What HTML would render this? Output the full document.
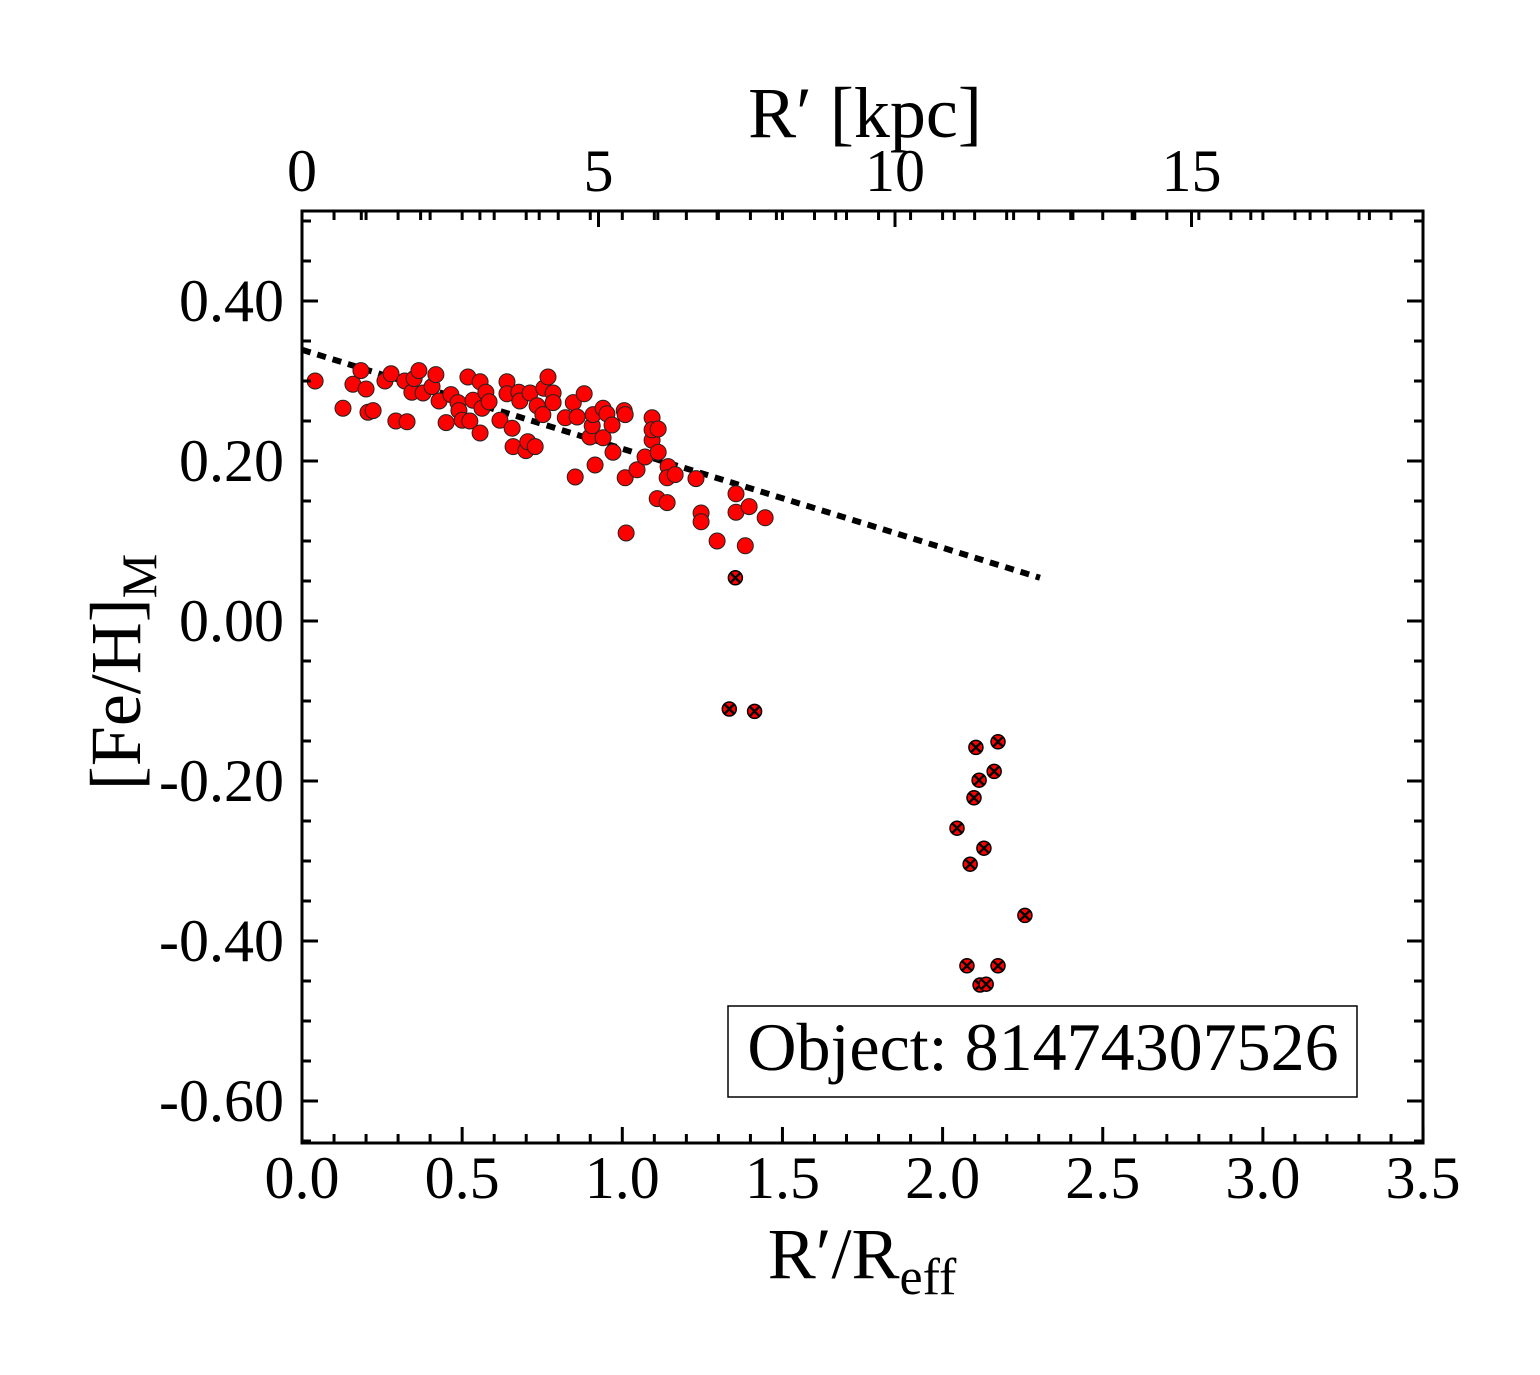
<!DOCTYPE html>
<html><head><meta charset="utf-8"><style>
body{margin:0;background:#fff}
svg{display:block;font-family:"Liberation Serif",serif}
</style></head><body>
<svg id="c" width="1540" height="1375"></svg>
<script>
const rvals=[0.041,0.128,0.159,0.184,0.200,0.206,0.222,0.259,0.278,0.293,0.328,0.321,0.343,0.350,0.365,0.378,0.406,0.418,0.428,0.450,0.465,0.487,0.490,0.500,0.518,0.524,0.534,0.556,0.556,0.562,0.574,0.584,0.618,0.640,0.640,0.656,0.659,0.677,0.680,0.699,0.705,0.712,0.728,0.734,0.752,0.755,0.768,0.784,0.784,0.822,0.847,0.853,0.859,0.881,0.899,0.906,0.909,0.915,0.940,0.940,0.952,0.968,0.971,1.006,1.009,1.009,1.012,1.046,1.071,1.093,1.093,1.093,1.112,1.112,1.109,1.140,1.143,1.140,1.165,1.230,1.246,1.246,1.296,1.355,1.355,1.384,1.396,1.446];
const fevals=[0.300,0.266,0.296,0.313,0.290,0.261,0.263,0.300,0.309,0.250,0.249,0.300,0.286,0.303,0.313,0.285,0.293,0.308,0.275,0.248,0.283,0.273,0.263,0.251,0.305,0.250,0.276,0.299,0.235,0.266,0.286,0.274,0.251,0.299,0.284,0.241,0.218,0.286,0.275,0.213,0.224,0.285,0.218,0.269,0.258,0.291,0.305,0.285,0.273,0.254,0.273,0.180,0.255,0.284,0.230,0.244,0.258,0.195,0.266,0.229,0.259,0.245,0.211,0.263,0.258,0.179,0.110,0.189,0.205,0.254,0.226,0.239,0.240,0.211,0.153,0.148,0.193,0.179,0.183,0.178,0.135,0.124,0.100,0.159,0.136,0.094,0.143,0.129];
const rflag=[1.353,1.334,1.413,2.104,2.173,2.114,2.161,2.098,2.045,2.129,2.086,2.257,2.076,2.173,2.117,2.136];
const feflag=[0.054,-0.110,-0.113,-0.158,-0.151,-0.199,-0.188,-0.221,-0.259,-0.284,-0.304,-0.368,-0.431,-0.431,-0.455,-0.454];
const fitR=[0,2.304];
const fitFe=[0.339,0.054];
const xTicks=["0.0","0.5","1.0","1.5","2.0","2.5","3.0","3.5"];
const yTicks=["0.40","0.20","0.00","-0.20","-0.40","-0.60"];
const kpcTicks=["0","5","10","15"];
const X0=302,X1=1423,Y0=211,Y1=1143;
const sx=v=>X0+v*320.3, sy=v=>621-v*800, sk=v=>X0+v*59.3;
const svg=document.getElementById('c');const NS='http://www.w3.org/2000/svg';
function mk(t,a,p){const e=document.createElementNS(NS,t);for(const k in a)e.setAttribute(k,a[k]);(p||svg).appendChild(e);return e;}
const fit=mk('line',{x1:sx(fitR[0]),y1:sy(fitFe[0]),x2:sx(fitR[1]),y2:sy(fitFe[1]),stroke:'#000','stroke-width':6,'stroke-dasharray':'9 7'});


rvals.forEach((r,i)=>{const c=mk('circle',{cx:sx(r),cy:sy(fevals[i]),r:8,fill:'#f00',stroke:'#222','stroke-width':1});

});
rflag.forEach((r,i)=>{const g=mk('g',{});


const x=sx(r),y=sy(feflag[i]);
mk('circle',{cx:x,cy:y,r:7,fill:'#f00',stroke:'#000','stroke-width':1.5},g);
mk('path',{d:`M${x-4.5} ${y-4.5}L${x+4.5} ${y+4.5}M${x-4.5} ${y+4.5}L${x+4.5} ${y-4.5}`,stroke:'#000','stroke-width':2.4},g);});
const fr=mk('rect',{x:X0,y:Y0,width:X1-X0,height:Y1-Y0,fill:'none',stroke:'#000','stroke-width':3});


for(let i=0;i<=35;i++){const x=sx(i/10),L=i%5==0?16:9;
mk('line',{x1:x,y1:Y1,x2:x,y2:Y1-L,stroke:'#000','stroke-width':3});
mk('line',{x1:x,y1:Y0,x2:x,y2:Y0+9,stroke:'#000','stroke-width':3});}
xTicks.forEach((t,i)=>{const e=mk('text',{x:sx(i*0.5),y:1198,'font-size':60,'text-anchor':'middle'});e.textContent=t;

});
for(let k=0;k<=18;k++){const x=sk(k),L=k%5==0?16:9;if(x>X1)break;
mk('line',{x1:x,y1:Y0,x2:x,y2:Y0+L,stroke:'#000','stroke-width':3});}
kpcTicks.forEach(t=>{const e=mk('text',{x:sk(+t),y:191,'font-size':60,'text-anchor':'middle'});e.textContent=t;

});
for(let i=-13;i<=10;i++){const v=i*0.05,y=sy(v);if(y<Y0||y>Y1)continue;const L=(i%4==0)?16:9;
mk('line',{x1:X0,y1:y,x2:X0+L,y2:y,stroke:'#000','stroke-width':3});
mk('line',{x1:X1,y1:y,x2:X1-L,y2:y,stroke:'#000','stroke-width':3});}
yTicks.forEach(t=>{const e=mk('text',{x:284,y:sy(parseFloat(t))+20,'font-size':60,'text-anchor':'end'});e.textContent=t;

});
</script>
<svg width="1540" height="1375" style="position:absolute;left:0;top:0">
<text x="865" y="137" font-size="72" text-anchor="middle" font-family="Liberation Serif, serif">R′ [kpc]</text>
<text x="862" y="1278" font-size="72" text-anchor="middle" font-family="Liberation Serif, serif">R′/R<tspan font-size="52" dy="16">eff</tspan></text>
<g transform="translate(140,672) rotate(-90)"><text x="0" y="0" font-size="72" text-anchor="middle" font-family="Liberation Serif, serif">[Fe/H]<tspan font-size="50" dy="16">M</tspan></text></g>
<g>
<rect x="728" y="1006" width="629" height="91" fill="#fff" stroke="#000" stroke-width="1.5"/>
<text x="1043" y="1070" font-size="68" text-anchor="middle" font-family="Liberation Serif, serif">Object: 81474307526</text>
</g>
</svg>
</body></html>
